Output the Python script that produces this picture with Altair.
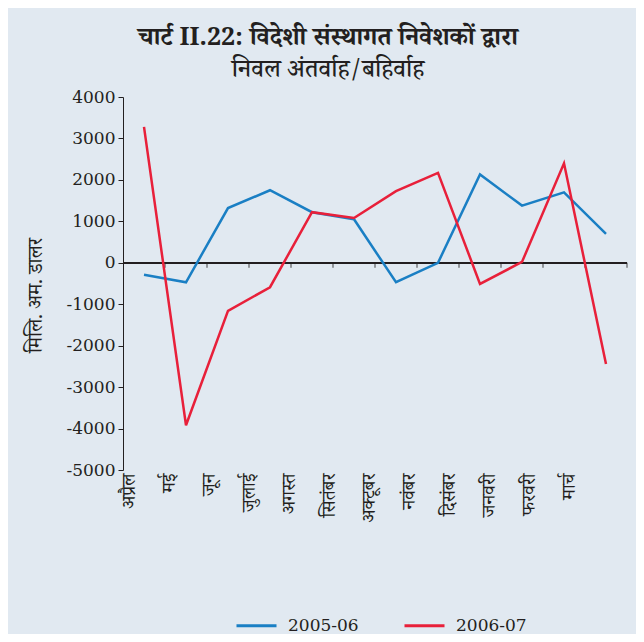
import altair as alt
import pandas as pd

months = ['अप्रैल', 'मई', 'जून', 'जुलाई', 'अगस्त', 'सितंबर', 'अक्टूबर',
          'नवंबर', 'दिसंबर', 'जनवरी', 'फरवरी', 'मार्च']
s_2005_06 = [-290, -470, 1320, 1750, 1220, 1050, -470, 0, 2130, 1380, 1700, 700]
s_2006_07 = [3280, -3920, -1160, -590, 1220, 1080, 1730, 2170, -510, 20, 2400, -2440]
series_names = ['2005-06', '2006-07']
series_colors = ['#1a7fc4', '#e8203a']
y_ticks = [-5000, -4000, -3000, -2000, -1000, 0, 1000, 2000, 3000, 4000]

rows = []
for name, vals in zip(series_names, [s_2005_06, s_2006_07]):
    for i, (m, v) in enumerate(zip(months, vals)):
        rows.append({'series': name, 'pos': i + 0.5, 'month': m, 'value': v, 'order': i})
df = pd.DataFrame(rows)
bounds = pd.DataFrame({'b': list(range(1, len(months) + 1))})
label_df = pd.DataFrame({'pos': [i + 0.5 for i in range(len(months))], 'month': months})

serif = 'DejaVu Serif'
deva = 'Noto Serif Devanagari, Noto Sans Devanagari, Lohit Devanagari, sans-serif'
ink = '#231f20'

xs = alt.Scale(domain=[0, len(months)], nice=False, zero=False)
ys = alt.Scale(domain=[-5000, 4000], nice=False)

lines = alt.Chart(df).mark_line(strokeWidth=2.5).encode(
    x=alt.X('pos:Q', scale=xs, axis=None),
    y=alt.Y('value:Q', scale=ys, axis=alt.Axis(
        values=y_ticks, labelExpr="'' + datum.value", grid=False, labelFont=serif,
        labelFontSize=17, labelColor=ink, tickSize=5, tickColor=ink, domainColor=ink,
        labelPadding=3,
        title='मिलि. अम. डालर', titleFont=deva, titleFontSize=20,
        titleFontWeight='normal', titleColor=ink, titleAngle=270,
        titleX=-88, titleY=198, titleAlign='center', titleBaseline='middle')),
    color=alt.Color('series:N', scale=alt.Scale(domain=series_names, range=series_colors),
                    legend=alt.Legend(title=None, orient='none', legendX=112, legendY=507,
                                      direction='horizontal', symbolType='stroke',
                                      symbolSize=1600, symbolStrokeWidth=3,
                                      labelFont=serif, labelFontSize=17, labelColor=ink,
                                      columnPadding=39, labelOffset=10)),
    order='order:Q',
)

zero = alt.Chart(df).mark_rule(color=ink, strokeWidth=1.2).encode(y=alt.datum(0, scale=ys))

ticks = alt.Chart(bounds).mark_tick(orient='vertical', size=5, yOffset=2.5,
                                    thickness=1.2, color=ink).encode(
    x=alt.X('b:Q', scale=xs, axis=None),
    y=alt.datum(0),
)

labels = alt.Chart(label_df).mark_point(opacity=0).encode(
    x=alt.X('pos:Q', scale=alt.Scale(domain=[0, 12.6], nice=False, zero=False),
            axis=alt.Axis(orient='bottom', values=[i + 0.5 for i in range(len(months))],
                          labelExpr='[' + ','.join("'" + m + "'" for m in months) + '][floor(datum.value)]',
                          labelAngle=270, labelAlign='right', labelBaseline='middle',
                          labelFont=deva, labelFontSize=19, labelColor=ink,
                          labelOffset=-15, labelPadding=3, domain=False, ticks=False,
                          grid=False, title=None)),
)

main = alt.layer(zero, ticks, lines)
chart = alt.layer(main, labels).resolve_scale(x='independent').properties(
    width=504, height=373,
    autosize=alt.AutoSizeParams(type='none'),
    padding={'left': 115, 'top': 89, 'right': 9, 'bottom': 164},
    background='#e1e9f1',
    title=alt.TitleParams(
        text='चार्ट II.22: विदेशी संस्थागत निवेशकों द्वारा',
        subtitle='निवल अंतर्वाह/बहिर्वाह',
        font=deva, fontSize=25, fontWeight='bold', color=ink,
        subtitleFont=deva, subtitleFontSize=25, subtitleColor=ink,
        subtitleFontWeight=500,
        subtitlePadding=7, anchor='middle', dx=-47, offset=6),
).configure_view(stroke=None)

chart.save('out.html', embed_options={'renderer': 'svg', 'actions': False})
